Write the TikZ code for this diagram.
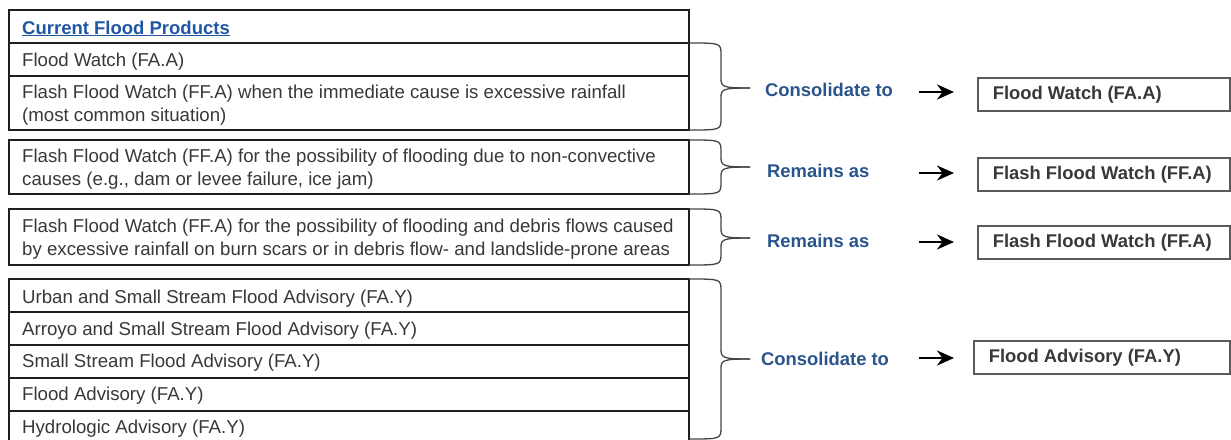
\documentclass[tikz,border=0pt]{standalone}
\usepackage{fontspec}
\setmainfont{Liberation Sans}
\usetikzlibrary{arrows.meta}

\definecolor{txtgray}{HTML}{383838}
\definecolor{linkblue}{HTML}{1F56A3}
\definecolor{labblue}{HTML}{2A548C}
\definecolor{bracegray}{HTML}{454545}
\definecolor{boxgray}{HTML}{5A5A5A}

% brace from the table edge: top y, bottom y, tip y
\newcommand{\floodbrace}[3]{%
  \draw[bracelin] (689,#1) .. controls (721,#1) .. (721,#1+12) -- (721,#3-9)
     .. controls (721,#3-1) and (724,#3) .. (750,#3);
  \draw[bracelin] (689,#2) .. controls (721,#2) .. (721,#2-12) -- (721,#3+9)
     .. controls (721,#3+1) and (724,#3) .. (750,#3);
}

\begin{document}
\begin{tikzpicture}[x=1pt, y=-1pt,
  rowline/.style={draw=black!88, line width=1.7pt},
  bracelin/.style={draw=bracegray, line width=1.3pt},
  rowtxt/.style={anchor=west, inner sep=0pt, align=left, text=txtgray,
    font=\fontsize{18.65}{23}\selectfont},
  labtxt/.style={anchor=west, inner sep=0pt, text=labblue,
    font=\fontsize{18.4}{23}\selectfont\bfseries},
  outbox/.style={draw=boxgray, line width=1.5pt, anchor=north west, text=txtgray,
    font=\fontsize{18.4}{23}\selectfont\bfseries,
    inner xsep=15pt, inner ysep=0pt, minimum height=33pt}]
\useasboundingbox (0,0) rectangle (1231,439);

% Draw the table rows
\draw[rowline] (9,10) rectangle (689,43);
\draw[rowline] (9,43) rectangle (689,76);
\draw[rowline] (9,76) rectangle (689,130);
\draw[rowline] (9,140) rectangle (689,194);
\draw[rowline] (9,209) rectangle (689,265);
\draw[rowline] (9,279) rectangle (689,312);
\draw[rowline] (9,312) rectangle (689,345);
\draw[rowline] (9,345) rectangle (689,378);
\draw[rowline] (9,378) rectangle (689,411);
\draw[rowline] (9,411) rectangle (689,446);

% Insert the row texts
\node[rowtxt, text=linkblue, font=\fontsize{18.5}{23}\selectfont\bfseries] (head) at (22,28.5) {\underline{Current Flood Products}};
\node[rowtxt] (fwatch) at (22,61.5) {Flood Watch (FA.A)};
\node[rowtxt] (ffrain) at (22,105.5) {Flash Flood Watch (FF.A) when the immediate cause is excessive rainfall\\(most common situation)};
\node[rowtxt] (ffdam) at (22,169.5) {Flash Flood Watch (FF.A) for the possibility of flooding due to non-convective\\causes (e.g., dam or levee failure, ice jam)};
\node[rowtxt] (ffburn) at (22,239.5) {Flash Flood Watch (FF.A) for the possibility of flooding and debris flows caused\\by excessive rainfall on burn scars or in debris flow- and landslide-prone areas};
\node[rowtxt] (urban) at (22,298.5) {Urban and Small Stream Flood Advisory (FA.Y)};
\node[rowtxt] (arroyo) at (22,330.5) {Arroyo and Small Stream Flood Advisory (FA.Y)};
\node[rowtxt] (small) at (22,362.5) {Small Stream Flood Advisory (FA.Y)};
\node[rowtxt] (fadv) at (22,395.5) {Flood Advisory (FA.Y)};
\node[rowtxt] (hydro) at (22,428.5) {Hydrologic Advisory (FA.Y)};

% Braces
\floodbrace{43}{130}{88}
\floodbrace{140}{194}{167}
\floodbrace{209}{265}{238}
\floodbrace{279}{439}{359}

% Labels
\node[labtxt] (cons1) at (765,90) {Consolidate to};
\node[labtxt] (rem1) at (767,171) {Remains as};
\node[labtxt] (rem2) at (767,241) {Remains as};
\node[labtxt] (cons2) at (761,359) {Consolidate to};

% Result boxes
\node[outbox] (newfa) at (977,77) {\makebox[222pt][l]{Flood Watch (FA.A)}};
\node[outbox] (newff1) at (977,157) {\makebox[222pt][l]{Flash Flood Watch (FF.A)}};
\node[outbox] (newff2) at (977,225) {\makebox[222pt][l]{Flash Flood Watch (FF.A)}};
\node[outbox] (newfy) at (973,340) {\makebox[226pt][l]{Flood Advisory (FA.Y)}};

% Arrows
\coordinate (a1s) at (919,92);
\coordinate (a1e) at (954,92);
\coordinate (a2s) at (919,173);
\coordinate (a2e) at (954,173);
\coordinate (a3s) at (919,242);
\coordinate (a3e) at (954,242);
\coordinate (a4s) at (919,358);
\coordinate (a4e) at (954,358);
\foreach \s/\e in {a1s/a1e, a2s/a2e, a3s/a3e, a4s/a4e}
  \draw[line width=2.6pt, -{Stealth[length=17pt, width=15pt]}] (\s) -- (\e);
\end{tikzpicture}
\end{document}
